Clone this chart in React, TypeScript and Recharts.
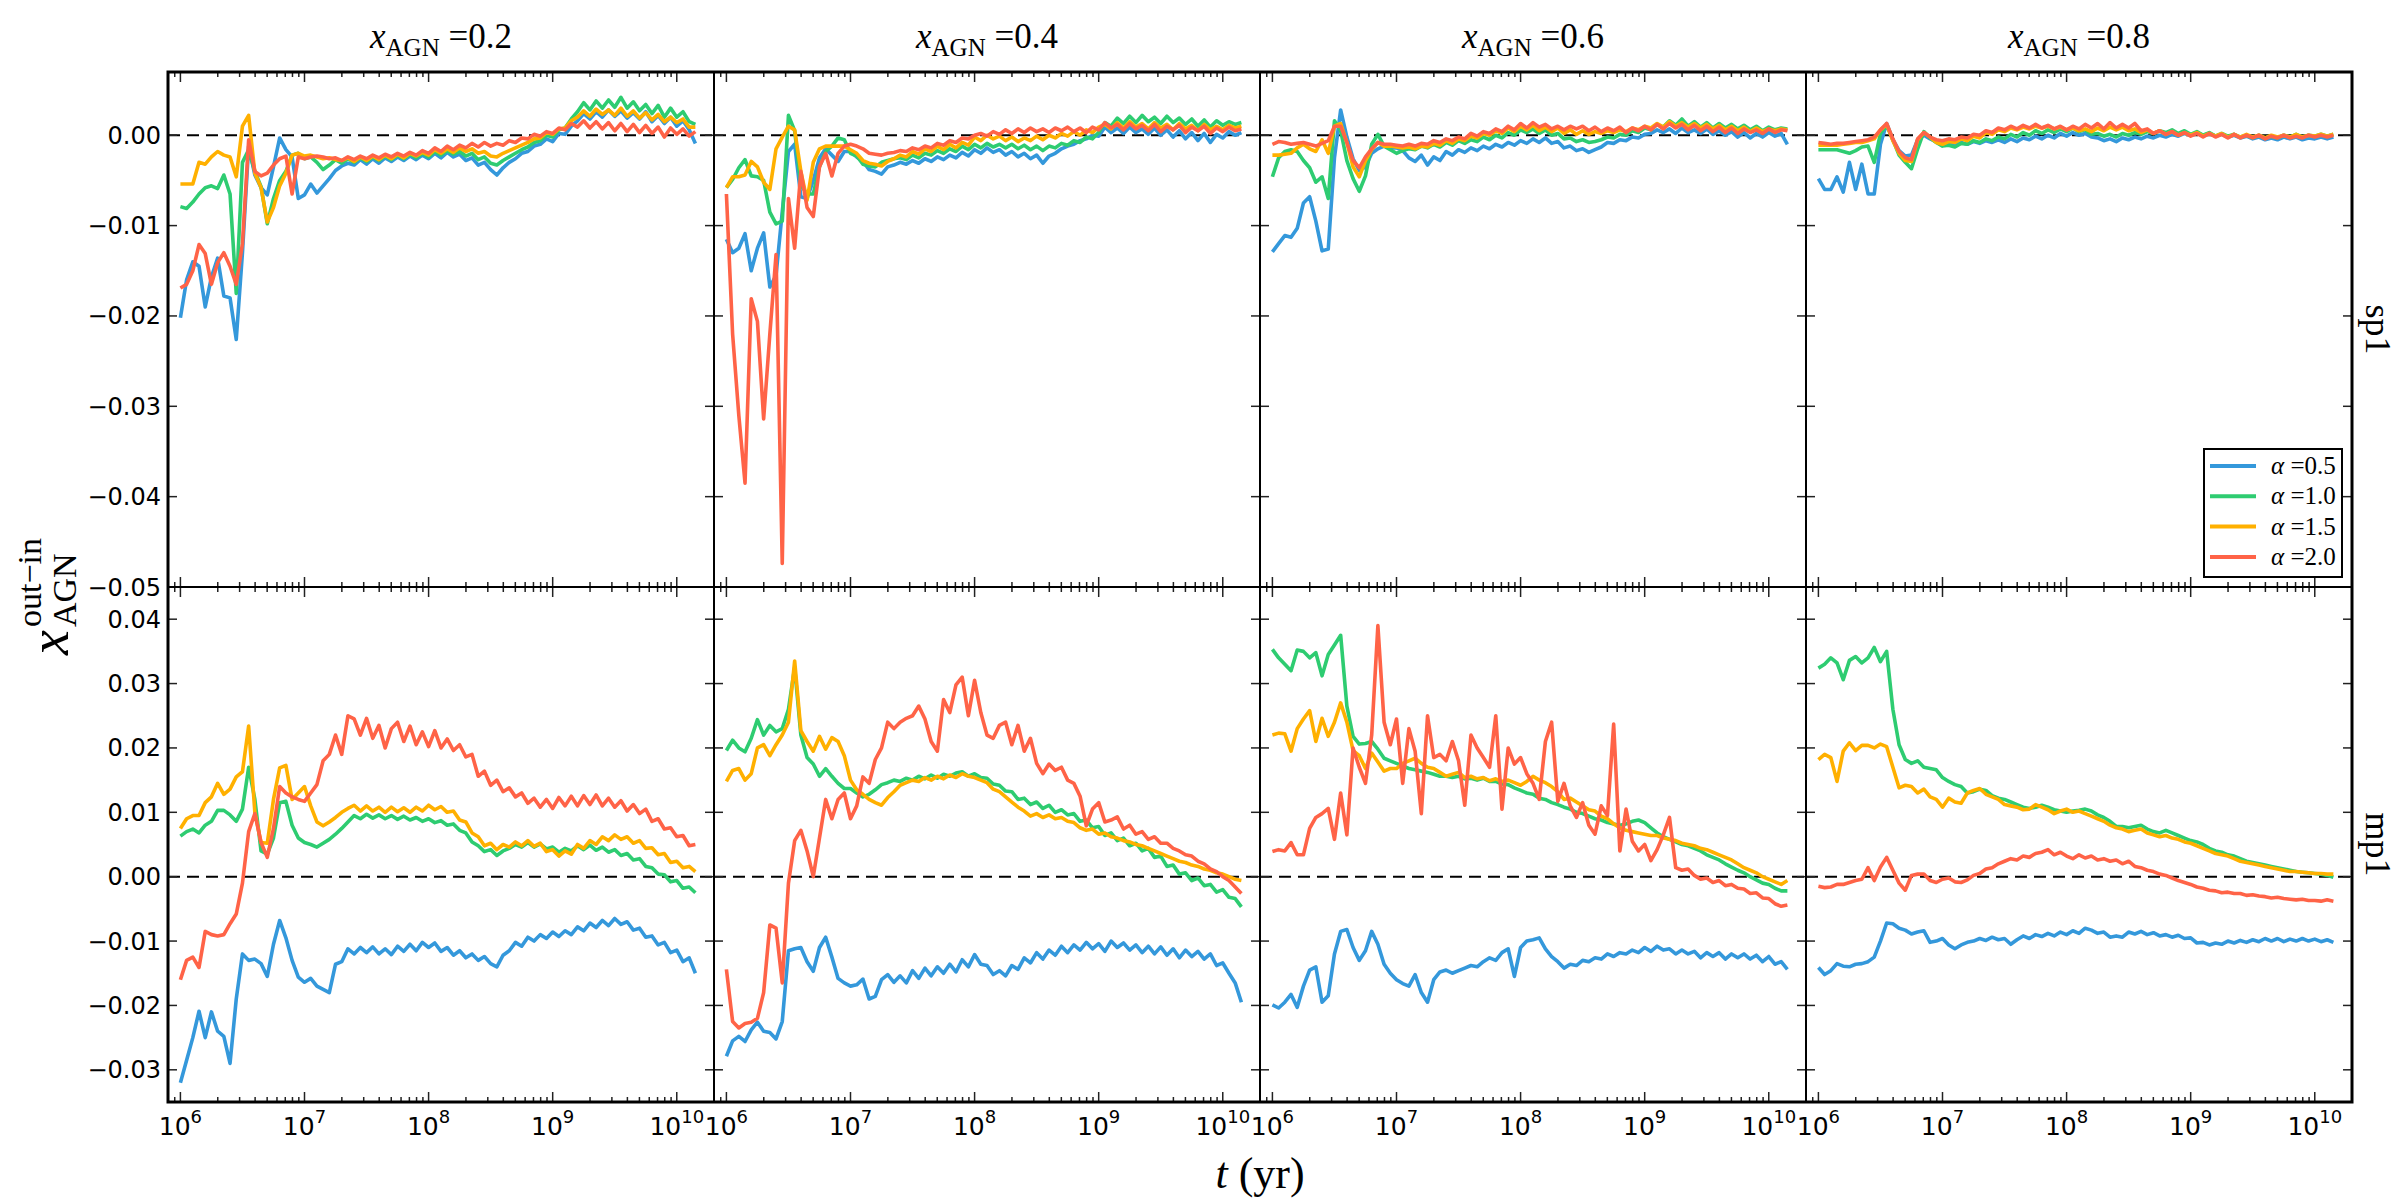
import { LineChart, Line, XAxis, YAxis, ReferenceLine } from 'recharts'

// log10(t / yr) sample grid shared by every panel
const LOG_T = [
  6.00, 6.05, 6.10, 6.15, 6.20, 6.25, 6.30, 6.35, 6.40, 6.45, 6.50, 6.55, 6.60, 6.65, 6.70, 6.75, 6.80, 6.85, 6.90, 6.95,
  7.00, 7.05, 7.10, 7.15, 7.20, 7.25, 7.30, 7.35, 7.40, 7.45, 7.50, 7.55, 7.60, 7.65, 7.70, 7.75, 7.80, 7.85, 7.90, 7.95,
  8.00, 8.05, 8.10, 8.15, 8.20, 8.25, 8.30, 8.35, 8.40, 8.45, 8.50, 8.55, 8.60, 8.65, 8.70, 8.75, 8.80, 8.85, 8.90, 8.95,
  9.00, 9.05, 9.10, 9.15, 9.20, 9.25, 9.30, 9.35, 9.40, 9.45, 9.50, 9.55, 9.60, 9.65, 9.70, 9.75, 9.80, 9.85, 9.90, 9.95,
  10.00, 10.05, 10.10, 10.15,
]

// x_AGN^(out-in) values, in units of 1e-3

// sp1, x_AGN = 0.2
const sp1_x02_a05 = [
  -20.2, -16.0, -14.0, -14.5, -19.0, -15.7, -13.6, -17.8, -18.0, -22.6,
  -13.0, -1.2, -4.4, -5.8, -6.6, -3.5, -0.3, -1.6, -2.4, -7.0,
  -6.6, -5.4, -6.4, -5.6, -4.8, -3.9, -3.4, -3.1, -3.3, -2.7,
  -3.2, -2.6, -3.1, -2.5, -2.9, -2.4, -2.8, -2.3, -2.7, -2.2,
  -2.6, -2.0, -2.5, -1.9, -2.4, -2.1, -2.8, -2.5, -3.3, -3.0,
  -3.8, -4.4, -3.6, -3.0, -2.6, -2.0, -1.8, -1.2, -1.0, -0.4,
  -0.7, 0.2, 0.1, 1.0, 1.6, 2.4, 1.8, 2.6, 2.0, 2.8,
  2.1, 2.7, 1.9, 2.5, 1.8, 2.6, 1.5, 2.2, 1.3, 2.0,
  1.0, 1.6, 0.6, -0.9,
]
const sp1_x02_a10 = [
  -7.9, -8.1, -7.4, -6.5, -5.8, -5.6, -5.9, -4.4, -6.5, -17.5,
  -3.0, -1.6, -4.0, -5.7, -9.8, -7.0, -5.0, -4.0, -2.2, -2.0,
  -2.6, -2.4, -3.0, -3.8, -3.3, -2.7, -3.1, -2.6, -3.0, -2.5,
  -2.9, -2.4, -2.8, -2.3, -2.7, -2.2, -2.6, -2.1, -2.5, -2.0,
  -2.4, -1.8, -2.2, -1.7, -2.1, -1.8, -2.3, -2.0, -2.7, -2.4,
  -3.1, -3.3, -2.8, -2.4, -2.0, -1.6, -1.3, -0.8, -0.6, 0.0,
  -0.2, 0.6, 0.8, 1.8, 2.6, 3.6, 2.8, 3.8, 3.0, 3.9,
  3.1, 4.2, 3.0, 3.7, 2.7, 3.4, 2.4, 3.3, 2.0, 3.0,
  2.0, 2.6, 1.5, 1.2,
]
const sp1_x02_a15 = [
  -5.4, -5.4, -5.4, -3.0, -3.2, -2.4, -1.8, -2.2, -2.4, -4.6,
  1.0, 2.2, -4.2, -5.8, -9.6, -8.0, -5.6, -4.2, -2.2, -2.0,
  -2.3, -2.2, -2.4, -2.6, -2.5, -2.7, -2.8, -2.5, -2.9, -2.4,
  -2.8, -2.3, -2.7, -2.2, -2.6, -2.1, -2.5, -2.0, -2.3, -1.9,
  -2.2, -1.6, -2.0, -1.5, -1.9, -1.4, -1.8, -1.5, -2.0, -1.8,
  -2.3, -2.4, -2.0, -1.7, -1.4, -1.1, -0.8, -0.4, -0.3, 0.3,
  0.1, 0.7, 0.8, 1.6, 2.0, 2.7, 2.1, 2.9, 2.3, 2.8,
  2.2, 3.0, 2.1, 2.7, 1.9, 2.5, 1.7, 2.3, 1.5, 2.0,
  1.4, 1.8, 0.9, 0.9,
]
const sp1_x02_a20 = [
  -16.9, -16.5, -15.0, -12.1, -13.1, -16.5, -14.1, -13.0, -14.5, -16.5,
  -12.0, -0.5, -4.0, -4.5, -4.2, -3.3, -2.6, -2.3, -6.5, -2.4,
  -2.6, -2.4, -2.3, -2.4, -2.6, -2.5, -2.8, -2.4, -2.7, -2.3,
  -2.6, -2.2, -2.5, -2.1, -2.4, -2.0, -2.3, -1.9, -2.2, -1.7,
  -2.0, -1.4, -1.8, -1.2, -1.6, -1.1, -1.4, -0.9, -1.3, -0.8,
  -1.2, -0.9, -1.1, -0.6, -0.8, -0.3, -0.4, 0.1, -0.1, 0.4,
  0.2, 0.8, 0.6, 1.3, 0.9, 1.6, 0.8, 1.5, 0.7, 1.4,
  0.5, 1.3, 0.4, 1.2, 0.3, 1.1, 0.2, 0.9, -0.2, 0.8,
  0.1, 0.7, -0.1, 0.4,
]

// sp1, x_AGN = 0.4
const sp1_x04_a05 = [
  -11.5, -13.0, -12.5, -10.9, -15.0, -12.5, -10.8, -16.8, -15.5, -8.5,
  -1.8, -1.0, -6.8, -7.0, -5.0, -2.5, -1.5, -2.2, -2.9, -1.8,
  -1.8, -2.4, -2.9, -3.8, -4.0, -4.3, -3.5, -3.3, -3.0, -3.2,
  -2.8, -3.1, -2.6, -2.9, -2.4, -2.7, -2.2, -2.5, -1.9, -2.3,
  -1.6, -2.0, -1.4, -1.9, -1.6, -2.2, -1.8, -2.4, -2.0, -2.6,
  -2.2, -3.1, -2.3, -2.0, -1.5, -1.2, -1.0, -0.6, -0.4, 0.0,
  -0.1, 0.9, 0.3, 0.8, 0.2, 0.9, 0.3, 0.7, 0.1, 0.8,
  0.0, 0.6, -0.2, 0.5, -0.4, 0.3, -0.6, 0.2, -0.8, 0.1,
  -0.3, 0.4, 0.0, 0.3,
]
const sp1_x04_a10 = [
  -5.8, -4.9, -3.6, -2.7, -4.5, -4.6, -5.0, -8.5, -9.8, -9.5,
  2.2, 0.5, -5.5, -6.5, -6.5, -3.5, -1.8, -1.2, -0.3, -0.5,
  -2.0, -2.3, -3.2, -3.4, -3.5, -3.0, -2.8, -2.6, -2.5, -2.7,
  -2.2, -2.5, -2.0, -2.2, -1.7, -2.0, -1.5, -1.8, -1.2, -1.6,
  -1.0, -1.4, -0.9, -1.3, -1.0, -1.4, -1.0, -1.5, -1.1, -1.6,
  -1.2, -1.7, -1.2, -1.4, -0.9, -1.1, -0.6, -0.8, -0.2, -0.4,
  0.3, 1.4, 1.0, 1.9, 1.3, 2.1, 1.4, 2.2, 1.5, 2.0,
  1.3, 2.1, 1.4, 1.9, 1.2, 1.8, 1.0, 1.7, 0.9, 1.6,
  1.1, 1.5, 1.2, 1.4,
]
const sp1_x04_a15 = [
  -5.8, -4.6, -4.6, -4.4, -2.9, -3.5, -5.2, -6.0, -1.5, -0.2,
  1.0, 0.6, -4.0, -7.2, -3.0, -1.5, -1.2, -1.2, -1.2, -1.2,
  -1.6, -2.0, -2.8, -3.1, -3.2, -3.4, -2.9, -2.6, -2.2, -2.4,
  -1.8, -2.1, -1.5, -1.8, -1.2, -1.6, -1.0, -1.4, -0.8, -1.1,
  -0.2, -0.6, 0.0, -0.4, -0.1, -0.6, -0.2, -0.7, -0.3, -0.6,
  -0.1, -0.5, 0.0, -0.3, 0.2, -0.1, 0.4, 0.0, 0.6, 0.3,
  0.9, 1.2, 0.7, 1.4, 0.8, 1.5, 0.9, 1.3, 0.7, 1.4,
  0.8, 1.2, 0.6, 1.3, 0.7, 1.1, 0.5, 1.2, 0.6, 1.0,
  0.6, 1.1, 0.8, 1.0,
]
const sp1_x04_a20 = [
  -6.5, -22.0, -31.0, -38.5, -18.1, -20.6, -31.4, -22.0, -13.2, -47.4,
  -7.0, -12.5, -4.0, -8.0, -9.0, -3.5, -2.0, -4.5, -2.0, -1.2,
  -1.0, -1.2, -1.5, -2.0, -2.1, -2.2, -2.0, -1.9, -1.7, -1.8,
  -1.4, -1.6, -1.2, -1.4, -0.9, -1.1, -0.6, -0.8, -0.3, -0.4,
  0.0, 0.2, -0.1, 0.4, 0.1, 0.6, 0.2, 0.7, 0.3, 0.8,
  0.4, 0.7, 0.3, 0.8, 0.5, 0.9, 0.4, 0.8, 0.3, 0.9,
  0.6, 1.4, 0.8, 1.2, 0.6, 1.3, 0.7, 1.1, 0.5, 1.2,
  0.4, 1.0, 0.6, 1.1, 0.3, 0.9, 0.5, 1.0, 0.2, 0.8,
  0.4, 0.9, 0.5, 0.7,
]

// sp1, x_AGN = 0.6
const sp1_x06_a05 = [
  -12.9, -12.0, -11.1, -11.3, -10.3, -7.5, -6.8, -9.5, -12.8, -12.6,
  -2.5, 2.8, -0.2, -2.6, -3.9, -3.5, -2.0, -1.5, -1.2, -1.4,
  -1.4, -1.7, -2.5, -2.9, -2.2, -3.3, -2.4, -2.8, -1.8, -2.2,
  -1.6, -1.9, -1.4, -1.7, -1.2, -1.5, -1.0, -1.3, -0.8, -1.1,
  -0.6, -0.9, -0.4, -0.8, -0.3, -0.9, -0.7, -1.4, -1.2, -1.7,
  -1.5, -1.9, -1.6, -1.3, -0.8, -0.9, -0.5, -0.6, -0.2, -0.3,
  0.1, 0.2, 0.6, 0.3, 0.7, 0.2, 0.8, 0.3, 0.6, 0.2,
  0.7, 0.1, 0.5, 0.0, 0.4, -0.2, 0.3, -0.3, 0.2, -0.2,
  0.3, -0.1, 0.2, -1.0,
]
const sp1_x06_a10 = [
  -4.6, -2.5, -1.8, -1.6, -1.8, -2.8, -3.6, -5.2, -4.6, -7.0,
  1.6, 0.5, -2.8, -4.8, -6.2, -4.5, -1.0, 0.1, -1.2, -1.6,
  -2.0, -1.7, -1.5, -1.6, -1.2, -1.4, -1.0, -1.3, -0.8, -1.1,
  -0.6, -0.9, -0.5, -0.7, -0.2, -0.5, 0.0, -0.3, 0.3, 0.0,
  0.6, 0.3, 0.7, 0.2, 0.6, 0.0, 0.2, -0.4, -0.3, -0.7,
  -0.5, -0.8, -0.7, -0.5, -0.2, -0.3, 0.1, 0.0, 0.5, 0.3,
  0.8, 0.6, 1.2, 0.9, 1.6, 1.1, 1.8, 1.0, 1.5, 0.9,
  1.4, 0.8, 1.3, 0.8, 1.2, 0.7, 1.1, 0.6, 1.0, 0.5,
  0.9, 0.6, 0.8, 0.7,
]
const sp1_x06_a15 = [
  -2.2, -2.2, -2.1, -2.0, -1.4, -1.0, -1.5, -1.8, -0.5, -2.0,
  1.0, 1.3, -0.8, -3.5, -4.6, -2.8, -1.6, -0.8, -1.2, -1.2,
  -1.3, -1.4, -1.3, -1.5, -1.2, -1.3, -0.9, -1.1, -0.6, -0.9,
  -0.4, -0.6, -0.1, -0.3, 0.2, 0.0, 0.5, 0.2, 0.8, 0.4,
  1.0, 0.6, 1.1, 0.5, 0.9, 0.4, 0.8, 0.2, 0.6, 0.1,
  0.5, 0.1, 0.4, 0.2, 0.5, 0.3, 0.6, 0.4, 0.8, 0.6,
  1.0, 0.8, 1.3, 0.9, 1.5, 1.0, 1.4, 0.9, 1.3, 0.8,
  1.2, 0.7, 1.1, 0.6, 1.0, 0.5, 0.9, 0.4, 0.8, 0.4,
  0.7, 0.5, 0.7, 0.6,
]
const sp1_x06_a20 = [
  -1.0, -0.7, -0.8, -1.0, -0.9, -0.8, -1.0, -1.2, -0.9, -0.6,
  1.0, 1.0, -0.8, -2.8, -3.6, -2.4, -1.5, -0.8, -1.0, -1.0,
  -1.1, -1.2, -1.0, -1.2, -0.9, -1.0, -0.6, -0.8, -0.4, -0.6,
  -0.2, -0.4, 0.2, -0.1, 0.4, 0.2, 0.7, 0.4, 1.0, 0.6,
  1.3, 0.8, 1.4, 0.9, 1.2, 0.7, 1.0, 0.6, 1.0, 0.7,
  1.0, 0.5, 0.9, 0.4, 0.8, 0.5, 0.9, 0.3, 0.8, 0.5,
  1.0, 0.6, 1.2, 0.7, 1.3, 0.8, 1.2, 0.6, 1.1, 0.5,
  1.0, 0.4, 0.9, 0.3, 0.8, 0.2, 0.7, 0.3, 0.6, 0.2,
  0.7, 0.3, 0.6, 0.5,
]

// sp1, x_AGN = 0.8
const sp1_x08_a05 = [
  -4.8, -6.0, -6.0, -4.6, -6.3, -3.0, -6.0, -3.2, -6.5, -6.5,
  -1.0, 1.3, -0.5, -1.7, -2.3, -2.2, -0.5, 0.0, -0.4, -0.7,
  -1.0, -0.9, -1.1, -0.8, -1.0, -0.7, -0.9, -0.6, -0.8, -0.5,
  -0.8, -0.4, -0.7, -0.3, -0.5, -0.1, -0.4, 0.0, -0.3, 0.2,
  -0.1, 0.3, 0.0, 0.2, -0.2, -0.3, -0.6, -0.4, -0.7, -0.3,
  -0.5, -0.2, -0.4, -0.1, -0.3, 0.0, -0.2, 0.1, -0.1, 0.2,
  0.0, 0.3, 0.0, 0.2, -0.1, 0.1, -0.2, 0.0, -0.3, -0.1,
  -0.4, -0.2, -0.5, -0.3, -0.5, -0.2, -0.4, -0.2, -0.5, -0.3,
  -0.4, -0.2, -0.4, -0.2,
]
const sp1_x08_a10 = [
  -1.6, -1.6, -1.6, -1.6, -1.8, -2.0, -1.7, -1.3, -1.2, -3.0,
  0.2, 1.1, -0.5, -2.2, -3.0, -3.7, -1.5, 0.4, -0.3, -0.8,
  -1.2, -1.1, -1.3, -0.9, -1.0, -0.6, -0.8, -0.4, -0.6, -0.2,
  -0.4, 0.1, -0.2, 0.3, 0.0, 0.5, 0.2, 0.6, 0.3, 0.7,
  0.4, 0.8, 0.4, 0.6, 0.1, 0.2, -0.1, 0.1, -0.2, 0.2,
  0.0, 0.3, 0.1, 0.4, 0.2, 0.5, 0.3, 0.6, 0.2, 0.5,
  0.1, 0.4, 0.0, 0.3, -0.1, 0.2, -0.1, 0.1, -0.2, 0.0,
  -0.3, 0.0, -0.3, -0.1, -0.3, 0.0, -0.2, 0.1, -0.2, 0.0,
  -0.1, 0.1, -0.1, 0.1,
]
const sp1_x08_a15 = [
  -1.1, -1.1, -1.1, -1.1, -1.0, -0.9, -0.8, -0.8, -0.6, -0.4,
  0.6, 1.2, -0.6, -2.0, -2.8, -2.9, -0.5, 0.3, -0.2, -0.8,
  -1.0, -0.7, -0.8, -0.4, -0.6, -0.1, -0.3, 0.3, 0.1, 0.6,
  0.4, 0.8, 0.6, 0.9, 0.7, 1.0, 0.8, 1.0, 0.7, 0.9,
  0.6, 0.8, 0.5, 0.7, 0.4, 0.8, 0.5, 0.9, 0.6, 0.9,
  0.5, 0.7, 0.3, 0.6, 0.2, 0.5, 0.1, 0.4, 0.0, 0.3,
  0.0, 0.3, -0.1, 0.2, -0.1, 0.2, -0.2, 0.1, -0.2, 0.1,
  -0.2, 0.0, -0.3, 0.0, -0.2, 0.0, -0.2, 0.1, -0.2, 0.0,
  -0.1, 0.1, -0.1, 0.1,
]
const sp1_x08_a20 = [
  -0.8, -0.9, -1.0, -0.9, -0.9, -0.8, -0.7, -0.6, -0.5, -0.2,
  0.6, 1.3, -0.4, -1.8, -2.5, -2.7, -0.4, 0.3, -0.2, -0.5,
  -0.6, -0.4, -0.5, -0.2, -0.3, 0.1, 0.0, 0.5, 0.3, 0.8,
  0.6, 1.0, 0.7, 1.1, 0.8, 1.2, 0.8, 1.1, 0.7, 1.0,
  0.6, 1.0, 0.7, 1.2, 0.8, 1.3, 0.7, 1.4, 0.8, 1.2,
  0.8, 1.3, 0.5, 0.7, 0.2, 0.5, 0.1, 0.4, 0.0, 0.3,
  -0.1, 0.2, -0.2, 0.2, -0.2, 0.1, -0.3, 0.1, -0.3, 0.0,
  -0.3, 0.0, -0.4, -0.1, -0.3, 0.0, -0.3, -0.1, -0.3, 0.0,
  -0.2, 0.0, -0.2, 0.0,
]

// mp1, x_AGN = 0.2
const mp1_x02_a05 = [
  -32.0, -28.5, -25.0, -20.9, -25.0, -21.0, -24.0, -24.8, -29.0, -19.0,
  -12.0, -13.0, -12.8, -13.5, -15.5, -10.5, -6.8, -9.5, -13.0, -15.6,
  -16.4, -15.8, -17.0, -17.5, -18.0, -13.6, -13.2, -11.2, -12.0, -11.0,
  -11.8, -10.9, -12.0, -11.2, -12.1, -10.8, -11.6, -10.5, -11.5, -10.2,
  -11.0, -10.3, -11.6, -11.0, -12.2, -11.5, -12.6, -12.0, -13.0, -12.4,
  -13.5, -14.0, -12.2, -11.5, -10.2, -10.8, -9.4, -10.0, -9.0, -9.6,
  -8.6, -9.3, -8.4, -9.0, -7.8, -8.4, -7.2, -7.9, -6.8, -7.6,
  -6.5, -7.4, -7.0, -8.3, -8.0, -9.4, -9.2, -10.6, -10.2, -11.8,
  -11.4, -13.2, -12.6, -15.0,
]
const mp1_x02_a10 = [
  6.3, 7.0, 7.4, 6.8, 8.0, 8.6, 10.3, 10.3, 9.6, 8.6,
  10.5, 17.0, 12.0, 4.0, 3.5, 6.0, 11.5, 11.7, 8.0, 6.0,
  5.3, 5.0, 4.6, 5.2, 5.8, 6.6, 7.5, 8.5, 9.5, 9.0,
  9.7, 9.1, 9.6, 9.0, 9.5, 8.9, 9.4, 8.8, 9.2, 8.6,
  9.0, 8.4, 8.7, 8.0, 8.2, 7.2, 6.8, 5.4, 4.8, 3.9,
  4.2, 3.3, 4.0, 4.4, 5.0, 4.6, 5.3, 4.6, 5.1, 4.3,
  4.6, 3.8, 4.4, 4.0, 4.8, 4.2, 4.9, 4.1, 4.6, 3.8,
  4.2, 3.3, 3.6, 2.6, 2.8, 1.6, 1.4, 0.4, 0.3, -0.8,
  -0.6, -1.8, -1.6, -2.5,
]
const mp1_x02_a15 = [
  7.5, 9.0, 9.5, 9.5, 11.5, 12.4, 14.5, 12.8, 13.6, 15.5,
  16.3, 23.4, 10.0, 5.3, 5.2, 12.0, 16.9, 17.3, 12.0, 13.0,
  14.0, 11.0, 8.5, 7.9, 8.5, 9.2, 10.0, 10.6, 11.1, 10.2,
  11.0, 10.2, 10.8, 10.0, 10.8, 10.1, 10.7, 10.0, 10.8, 10.2,
  11.1, 10.4, 10.9, 10.0, 10.2, 8.8, 8.5, 6.8, 6.2, 4.8,
  5.2, 4.2, 5.0, 4.6, 5.4, 4.8, 5.6, 4.7, 5.2, 3.9,
  4.2, 3.2, 4.0, 3.5, 5.0, 4.4, 5.6, 5.0, 6.2, 5.6,
  6.5, 5.8, 6.2, 5.2, 5.6, 4.4, 4.5, 3.4, 3.6, 2.2,
  2.4, 1.4, 1.6, 0.8,
]
const mp1_x02_a20 = [
  -16.0, -13.0, -12.5, -14.1, -8.5, -9.0, -9.2, -9.0, -7.3, -5.8,
  -1.0, 7.0, 9.8, 5.3, 3.0, 7.5, 14.0, 13.0, 12.4, 12.0,
  11.7, 13.0, 14.3, 18.0, 19.0, 22.0, 19.0, 25.0, 24.5, 22.0,
  24.6, 21.5, 23.5, 20.0, 23.0, 24.0, 21.0, 23.4, 20.5, 22.5,
  20.2, 22.7, 20.0, 21.4, 19.6, 20.5, 18.6, 19.0, 15.6, 16.4,
  14.2, 15.0, 13.2, 13.8, 12.4, 13.0, 11.4, 12.2, 10.8, 12.0,
  10.6, 12.3, 11.0, 12.5, 11.0, 12.6, 11.2, 12.7, 11.0, 12.2,
  10.8, 11.8, 10.2, 11.2, 9.8, 10.5, 8.6, 9.0, 7.4, 7.6,
  6.2, 6.4, 4.8, 5.0,
]

// mp1, x_AGN = 0.4
const mp1_x04_a05 = [
  -27.9, -25.5, -24.8, -25.6, -23.8, -22.6, -24.0, -24.2, -25.2, -22.5,
  -11.5, -11.2, -11.0, -13.2, -14.7, -11.0, -9.4, -12.5, -15.8, -16.5,
  -17.0, -16.8, -15.9, -19.0, -18.6, -16.0, -15.2, -16.4, -15.4, -16.5,
  -14.6, -15.8, -14.2, -15.4, -14.0, -15.0, -13.6, -14.8, -12.9, -14.0,
  -12.1, -13.6, -13.8, -15.2, -14.6, -15.4, -13.8, -14.4, -12.6, -13.4,
  -11.8, -12.8, -11.4, -12.2, -10.8, -11.8, -10.6, -11.4, -10.2, -11.2,
  -10.4, -11.6, -10.0, -11.0, -10.3, -11.4, -10.6, -11.8, -10.8, -12.0,
  -10.9, -12.2, -11.2, -12.6, -11.4, -12.4, -11.6, -12.8, -12.0, -13.8,
  -13.4, -15.0, -16.5, -19.5,
]
const mp1_x04_a10 = [
  19.6, 21.2, 20.0, 19.4, 21.5, 24.4, 22.0, 23.5, 22.5, 23.0,
  26.0, 32.5, 22.0, 18.5, 17.5, 15.6, 16.8, 15.6, 14.5, 13.7,
  13.7, 13.0, 12.4, 12.8, 13.5, 14.3, 14.6, 15.0, 14.8, 15.3,
  15.0, 15.6, 15.2, 15.8, 15.3, 15.9, 15.6, 16.1, 16.3, 15.6,
  16.0, 15.4, 15.3, 14.4, 14.2, 13.3, 13.2, 12.0, 12.2, 11.2,
  11.6, 10.6, 11.1, 10.0, 10.4, 9.6, 9.8, 8.6, 8.8, 7.6,
  7.8, 6.4, 6.8, 5.6, 6.0, 4.8, 5.2, 4.0, 4.4, 3.0,
  3.2, 1.6, 1.8, 0.4, 0.6, -0.6, -0.2, -1.4, -1.2, -2.4,
  -2.0, -3.2, -3.4, -4.7,
]
const mp1_x04_a15 = [
  14.8, 16.5, 16.8, 15.0, 16.0, 20.0, 20.5, 18.8, 20.5, 22.0,
  24.0, 33.5, 22.7, 21.0, 19.5, 21.8, 19.8, 21.6, 21.0, 18.8,
  15.0, 13.5, 12.8, 12.0, 11.5, 11.1, 12.3, 13.2, 14.2, 14.6,
  15.0, 14.8, 15.4, 15.0, 15.6, 15.2, 15.8, 15.4, 16.0, 15.6,
  15.4, 15.0, 14.6, 13.6, 13.2, 12.4, 11.6, 10.8, 10.2, 9.4,
  9.8, 9.2, 9.6, 9.0, 9.2, 8.6, 8.4, 7.6, 7.2, 7.4,
  6.6, 6.8, 6.2, 6.0, 5.6, 5.4, 5.0, 4.8, 4.4, 4.0,
  3.6, 3.2, 2.8, 2.4, 2.2, 1.8, 1.6, 1.2, 1.0, 0.6,
  0.4, 0.0, -0.4, -0.6,
]
const mp1_x04_a20 = [
  -14.4, -22.5, -23.5, -22.8, -22.6, -22.0, -18.0, -7.5, -8.0, -16.5,
  -1.0, 5.6, 7.2, 4.0, 0.0, 6.0, 12.0, 9.0, 12.0, 13.0,
  9.0, 11.0, 15.5, 14.5, 18.2, 20.0, 24.0, 23.0, 24.0, 24.6,
  25.0, 26.5, 24.5, 21.0, 19.5, 27.5, 25.5, 29.8, 31.0, 25.0,
  30.5, 25.5, 22.0, 21.5, 23.5, 24.0, 20.5, 23.5, 19.5, 21.5,
  17.6, 16.0, 17.5, 16.5, 17.0, 15.0, 14.5, 12.5, 7.9, 10.5,
  11.5, 8.5, 8.8, 9.3, 7.4, 8.0, 6.6, 7.0, 5.8, 6.2,
  5.2, 5.2, 4.4, 4.0, 3.4, 3.2, 2.4, 2.0, 1.2, 0.8,
  0.0, -0.6, -1.6, -2.6,
]

// mp1, x_AGN = 0.6
const mp1_x06_a05 = [
  -19.9, -20.4, -19.5, -18.3, -20.3, -17.0, -14.5, -14.0, -19.5, -18.5,
  -12.0, -8.5, -8.2, -11.0, -13.0, -11.5, -8.5, -10.5, -13.6, -15.0,
  -16.0, -16.6, -17.0, -15.2, -18.0, -19.5, -16.0, -14.8, -14.5, -15.0,
  -14.6, -14.2, -13.8, -14.0, -13.2, -12.6, -13.0, -11.8, -11.2, -15.5,
  -11.0, -10.0, -9.8, -9.5, -11.2, -12.4, -13.2, -14.2, -13.6, -13.8,
  -13.0, -13.2, -12.6, -12.8, -12.0, -12.4, -11.8, -12.0, -11.4, -11.8,
  -11.0, -11.6, -10.8, -11.4, -11.2, -12.0, -11.4, -12.0, -11.6, -12.6,
  -11.8, -12.4, -11.8, -12.8, -12.0, -12.6, -12.0, -12.8, -12.2, -13.2,
  -12.4, -13.6, -13.2, -14.4,
]
const mp1_x06_a10 = [
  35.3, 34.0, 33.0, 32.0, 35.2, 35.0, 34.0, 34.8, 31.2, 34.5,
  36.0, 37.5, 26.5, 21.8, 20.6, 20.7, 21.0, 19.8, 18.4, 18.0,
  17.6, 17.2, 16.8, 16.6, 16.4, 16.2, 15.9, 15.6, 15.6, 15.4,
  15.6, 15.2, 15.3, 15.0, 15.3, 14.8, 14.8, 14.4, 14.3, 13.8,
  13.4, 13.0, 12.8, 12.2, 12.0, 11.5, 11.2, 10.8, 10.5, 10.0,
  9.8, 9.4, 9.0, 8.8, 8.4, 8.2, 8.0, 8.2, 8.6, 8.8,
  8.4, 7.6, 6.8, 6.2, 5.8, 5.4, 5.0, 4.8, 4.4, 4.0,
  3.4, 3.0, 2.6, 2.0, 1.5, 1.0, 0.6, 0.0, -0.5, -1.0,
  -1.2, -1.8, -2.2, -2.2,
]
const mp1_x06_a15 = [
  22.0, 22.3, 22.2, 19.5, 23.0, 24.5, 25.8, 21.0, 24.6, 21.8,
  24.0, 27.0, 24.0, 19.6, 18.8, 16.8, 19.2, 17.8, 16.4, 16.8,
  16.8, 17.6, 18.0, 18.4, 17.6, 17.0, 16.8, 16.2, 15.6, 15.9,
  16.2, 15.4, 15.6, 15.2, 15.4, 14.9, 15.2, 14.8, 15.0, 14.6,
  14.2, 14.8, 15.6, 15.0, 14.6, 14.0, 13.2, 12.0, 12.2, 11.6,
  11.0, 10.4, 10.2, 9.4, 9.0, 8.2, 7.6, 7.2, 7.0, 6.8,
  6.6, 6.4, 6.4, 6.0, 5.8, 5.6, 5.2, 5.0, 4.8, 4.4,
  4.2, 3.8, 3.4, 3.0, 2.6, 2.0, 1.4, 1.0, 0.6, 0.0,
  -0.4, -0.8, -1.2, -0.6,
]
const mp1_x06_a20 = [
  3.9, 4.2, 4.0, 5.3, 3.4, 3.4, 7.5, 9.2, 9.8, 10.6,
  5.8, 13.0, 6.5, 20.0, 17.0, 14.5, 22.0, 39.0, 24.0, 20.5,
  24.5, 14.5, 23.0, 19.5, 9.8, 25.0, 18.5, 19.0, 18.0, 21.0,
  18.0, 11.1, 22.0, 20.0, 18.5, 17.0, 25.0, 10.5, 20.0, 17.5,
  18.5, 16.0, 14.5, 12.0, 21.0, 24.0, 11.7, 14.5, 11.0, 9.2,
  11.5, 8.0, 6.6, 11.0, 9.5, 23.7, 4.0, 10.5, 5.5, 4.0,
  5.0, 2.5, 4.2, 6.5, 9.2, 1.4, 1.0, 1.2, 0.2, -0.4,
  -0.2, -0.9, -0.6, -1.4, -1.2, -1.8, -1.9, -2.6, -2.5, -3.3,
  -3.4, -4.2, -4.6, -4.4,
]

// mp1, x_AGN = 0.8
const mp1_x08_a05 = [
  -14.1, -15.2, -14.6, -13.5, -13.9, -14.0, -13.6, -13.5, -13.2, -12.5,
  -10.0, -7.2, -7.3, -8.0, -8.3, -8.9, -8.6, -8.4, -10.2, -10.0,
  -9.6, -10.6, -11.2, -10.6, -10.2, -10.0, -9.6, -9.9, -9.4, -9.8,
  -9.6, -10.5, -9.8, -9.2, -9.6, -9.0, -9.3, -8.8, -9.2, -8.6,
  -9.0, -8.4, -8.8, -8.0, -8.3, -8.8, -8.6, -9.4, -9.2, -9.4,
  -8.6, -8.9, -8.5, -9.0, -8.7, -9.2, -9.0, -9.4, -9.1, -9.6,
  -9.5, -10.3, -10.2, -10.6, -10.3, -10.5, -10.0, -10.3, -9.9, -10.2,
  -9.8, -10.1, -9.6, -10.0, -9.6, -10.1, -9.7, -10.0, -9.6, -10.0,
  -9.7, -10.1, -9.8, -10.2,
]
const mp1_x08_a10 = [
  32.4, 33.0, 34.0, 33.2, 30.6, 33.6, 34.2, 33.2, 34.0, 35.6,
  33.4, 35.0, 26.0, 20.5, 18.2, 17.6, 18.0, 17.0, 16.8, 16.6,
  15.4, 14.8, 14.3, 14.0, 13.0, 13.2, 13.6, 13.4, 12.6, 12.2,
  12.0, 11.6, 11.2, 10.8, 10.6, 10.8, 11.1, 10.8, 10.4, 10.2,
  10.0, 10.2, 10.3, 10.5, 10.2, 9.6, 9.2, 8.6, 7.8, 7.8,
  7.6, 7.8, 8.0, 7.4, 7.0, 6.8, 7.2, 6.8, 6.4, 6.0,
  5.6, 5.4, 5.0, 4.4, 4.0, 3.8, 3.4, 3.2, 2.8, 2.4,
  2.2, 2.0, 1.8, 1.6, 1.4, 1.2, 1.0, 0.8, 0.7, 0.6,
  0.5, 0.4, 0.2, -0.1,
]
const mp1_x08_a15 = [
  18.2, 19.0, 18.5, 14.8, 19.5, 20.8, 19.6, 20.4, 20.4, 20.0,
  20.6, 20.2, 17.0, 13.8, 14.2, 14.0, 13.0, 13.6, 12.4, 12.0,
  10.8, 12.2, 11.6, 11.4, 13.0, 13.4, 13.7, 12.8, 12.4, 12.0,
  11.2, 11.0, 10.8, 10.4, 10.5, 11.2, 10.8, 10.4, 9.8, 10.2,
  10.5, 10.0, 10.2, 9.8, 9.4, 9.0, 8.6, 8.0, 7.6, 7.4,
  7.0, 7.2, 7.4, 6.8, 6.5, 6.2, 6.4, 6.0, 5.8, 5.4,
  5.2, 4.8, 4.4, 4.0, 3.6, 3.4, 3.2, 2.8, 2.4, 2.2,
  2.0, 1.8, 1.6, 1.4, 1.2, 1.0, 0.8, 0.8, 0.7, 0.6,
  0.5, 0.5, 0.4, 0.4,
]
const mp1_x08_a20 = [
  -1.5, -1.7, -1.6, -1.2, -1.2, -0.9, -0.6, -0.4, 1.4, -0.6,
  1.5, 3.0, 1.0, -1.0, -2.1, 0.2, 0.4, 0.4, -0.6, -0.9,
  -0.4, -0.2, -0.8, -0.9, -0.5, 0.2, 0.5, 1.2, 1.4, 2.0,
  2.4, 2.8, 2.6, 3.2, 3.0, 3.6, 3.8, 4.2, 3.4, 3.8,
  3.2, 2.8, 3.4, 2.9, 3.2, 2.6, 2.8, 2.4, 2.6, 2.0,
  2.4, 1.6, 1.4, 1.0, 0.8, 0.4, 0.2, -0.2, -0.6, -0.9,
  -1.2, -1.6, -1.8, -2.1, -2.2, -2.5, -2.4, -2.6, -2.6, -2.9,
  -2.8, -3.0, -3.1, -3.3, -3.2, -3.4, -3.5, -3.6, -3.5, -3.7,
  -3.7, -3.8, -3.6, -3.8,
]

const ALPHAS = ['0.5', '1.0', '1.5', '2.0']
const COLORS = ['#3498db', '#2ecc71', '#ffb000', '#ff6347']
const X_AGN = ['0.2', '0.4', '0.6', '0.8']
const ROW_NAMES = ['sp1', 'mp1']

const PANELS = [
  [
    [sp1_x02_a05, sp1_x02_a10, sp1_x02_a15, sp1_x02_a20],
    [sp1_x04_a05, sp1_x04_a10, sp1_x04_a15, sp1_x04_a20],
    [sp1_x06_a05, sp1_x06_a10, sp1_x06_a15, sp1_x06_a20],
    [sp1_x08_a05, sp1_x08_a10, sp1_x08_a15, sp1_x08_a20],
  ],
  [
    [mp1_x02_a05, mp1_x02_a10, mp1_x02_a15, mp1_x02_a20],
    [mp1_x04_a05, mp1_x04_a10, mp1_x04_a15, mp1_x04_a20],
    [mp1_x06_a05, mp1_x06_a10, mp1_x06_a15, mp1_x06_a20],
    [mp1_x08_a05, mp1_x08_a10, mp1_x08_a15, mp1_x08_a20],
  ],
]

const Y_DOMAINS = [[-0.05, 0.007], [-0.035, 0.045]]
const Y_TICKS = [
  [-0.05, -0.04, -0.03, -0.02, -0.01, 0],
  [-0.03, -0.02, -0.01, 0, 0.01, 0.02, 0.03, 0.04],
]
const DECADES = [6, 7, 8, 9, 10]
const MINOR_MULT = [2, 3, 4, 5, 6, 7, 8, 9]
const X_TICKS = [5 + Math.log10(9), ...DECADES]
  .concat(DECADES.slice(0, -1).flatMap((d) => MINOR_MULT.map((m) => d + Math.log10(m))))
  .sort((a, b) => a - b)

// figure geometry
const PX = 168
const PY = 72
const PW = 546
const PH = 515
const YW = 100
const XH = 60

const SERIF = '"Liberation Serif", "DejaVu Serif", serif'
const SANS = '"DejaVu Sans", sans-serif'
const TICK_COLOR = '#222'

const fmtY = (v: number) => {
  const s = Math.abs(v).toFixed(2)
  return v < -1e-9 ? '\u2212' + s : s
}

function YTick(props: any) {
  const { x, y, payload, showLabel } = props
  return (
    <g>
      <line x1={x} x2={x + 9} y1={y} y2={y} stroke={TICK_COLOR} strokeWidth={1.5} />
      <line x1={x + PW - 9} x2={x + PW} y1={y} y2={y} stroke={TICK_COLOR} strokeWidth={1.5} />
      {showLabel && (
        <text x={x - 7} y={y} dy={8.5} textAnchor="end" fontSize={24} fontFamily={SANS} fill="#000">
          {fmtY(payload.value)}
        </text>
      )}
    </g>
  )
}

function XTick(props: any) {
  const { x, y, payload, showLabel } = props
  const v = payload.value
  const major = Math.abs(v - Math.round(v)) < 1e-6
  const len = major ? 10 : 5
  return (
    <g>
      <line x1={x} x2={x} y1={y} y2={y - len} stroke={TICK_COLOR} strokeWidth={1.5} />
      <line x1={x} x2={x} y1={y - PH} y2={y - PH + len} stroke={TICK_COLOR} strokeWidth={1.5} />
      {showLabel && major && (
        <text x={x} y={y + 33} textAnchor="middle" fontSize={25} fontFamily={SANS} fill="#000">
          10
          <tspan dy={-12} fontSize={18}>
            {Math.round(v)}
          </tspan>
        </text>
      )}
    </g>
  )
}

function Panel({ row, col }: { row: number; col: number }) {
  const series = PANELS[row][col]
  const data = LOG_T.map((t, i) => ({
    t,
    a0: series[0][i] / 1000,
    a1: series[1][i] / 1000,
    a2: series[2][i] / 1000,
    a3: series[3][i] / 1000,
  }))
  return (
    <div style={{ position: 'absolute', left: PX + col * PW - YW, top: PY + row * PH }}>
      <LineChart width={YW + PW} height={PH + XH} data={data} margin={{ top: 0, right: 0, bottom: 0, left: 0 }}>
        <XAxis
          dataKey="t"
          type="number"
          domain={[5.9, 10.3]}
          allowDataOverflow
          ticks={X_TICKS}
          interval={0}
          height={XH}
          axisLine={false}
          tickLine={false}
          tickSize={0}
          tickMargin={0}
          tick={(p: any) => <XTick {...p} showLabel={row === 1} />}
        />
        <YAxis
          type="number"
          domain={Y_DOMAINS[row]}
          allowDataOverflow
          ticks={Y_TICKS[row]}
          interval={0}
          width={YW}
          axisLine={false}
          tickLine={false}
          tickSize={0}
          tickMargin={0}
          tick={(p: any) => <YTick {...p} showLabel={col === 0} />}
        />
        <ReferenceLine y={0} stroke="#000" strokeWidth={2} strokeDasharray="12 7" />
        {ALPHAS.map((a, i) => (
          <Line
            key={a}
            dataKey={'a' + i}
            stroke={COLORS[i]}
            strokeWidth={3.6}
            strokeLinejoin="round"
            dot={false}
            isAnimationActive={false}
          />
        ))}
      </LineChart>
    </div>
  )
}

export default function App() {
  const figW = 4 * PW
  const figH = 2 * PH
  const legX = PX + 4 * PW - 148
  const legY = PY + PH - 138
  return (
    <div style={{ position: 'absolute', left: 0, top: 0, width: 2400, height: 1200, background: '#fff' }}>
      {[0, 1].map((r) => [0, 1, 2, 3].map((c) => <Panel key={r + '-' + c} row={r} col={c} />))}
      <svg width={2400} height={1200} style={{ position: 'absolute', left: 0, top: 0, pointerEvents: 'none' }}>
        {[0, 1].map((r) =>
          [0, 1, 2, 3].map((c) => (
            <rect
              key={'f' + r + c}
              x={PX + c * PW}
              y={PY + r * PH}
              width={PW}
              height={PH}
              fill="none"
              stroke="#000"
              strokeWidth={2}
            />
          ))
        )}
        <rect x={PX} y={PY} width={figW} height={figH} fill="none" stroke="#000" strokeWidth={3} />

        {X_AGN.map((v, c) => (
          <text key={v} x={PX + c * PW + PW / 2} y={48} textAnchor="middle" fontFamily={SERIF} fontSize={35} fill="#000">
            <tspan fontStyle="italic">x</tspan>
            <tspan fontSize={25} dy={8}>AGN</tspan>
            <tspan dy={-8}>{' =' + v}</tspan>
          </text>
        ))}

        {ROW_NAMES.map((n, r) => (
          <text
            key={n}
            transform={`translate(${PX + figW + 14}, ${PY + r * PH + PH / 2}) rotate(90)`}
            textAnchor="middle"
            fontFamily={SERIF}
            fontSize={36}
            fill="#000"
          >
            {n}
          </text>
        ))}

        <g transform={`translate(68, 655) rotate(-90)`} fontFamily={SERIF} fill="#000">
          <text x={0} y={0} fontSize={56} fontStyle="italic">x</text>
          <text x={28} y={8} fontSize={34}>AGN</text>
          <text x={28} y={-27} fontSize={34}>{'out\u2212in'}</text>
        </g>

        <text x={PX + figW / 2} y={1188} textAnchor="middle" fontFamily={SERIF} fontSize={44} fill="#000">
          <tspan fontStyle="italic">t</tspan>
          <tspan>{' (yr)'}</tspan>
        </text>

        <g>
          <rect x={legX} y={legY} width={138} height={128} fill="#fff" stroke="#000" strokeWidth={2} />
          {ALPHAS.map((a, i) => {
            const ly = legY + 17 + i * 30.3
            return (
              <g key={a}>
                <line x1={legX + 6} x2={legX + 52} y1={ly} y2={ly} stroke={COLORS[i]} strokeWidth={4} />
                <text x={legX + 67} y={ly + 8} fontFamily={SERIF} fontSize={25} fill="#000">
                  <tspan fontStyle="italic">{'\u03b1'}</tspan>
                  <tspan>{' =' + a}</tspan>
                </text>
              </g>
            )
          })}
        </g>
      </svg>
    </div>
  )
}
